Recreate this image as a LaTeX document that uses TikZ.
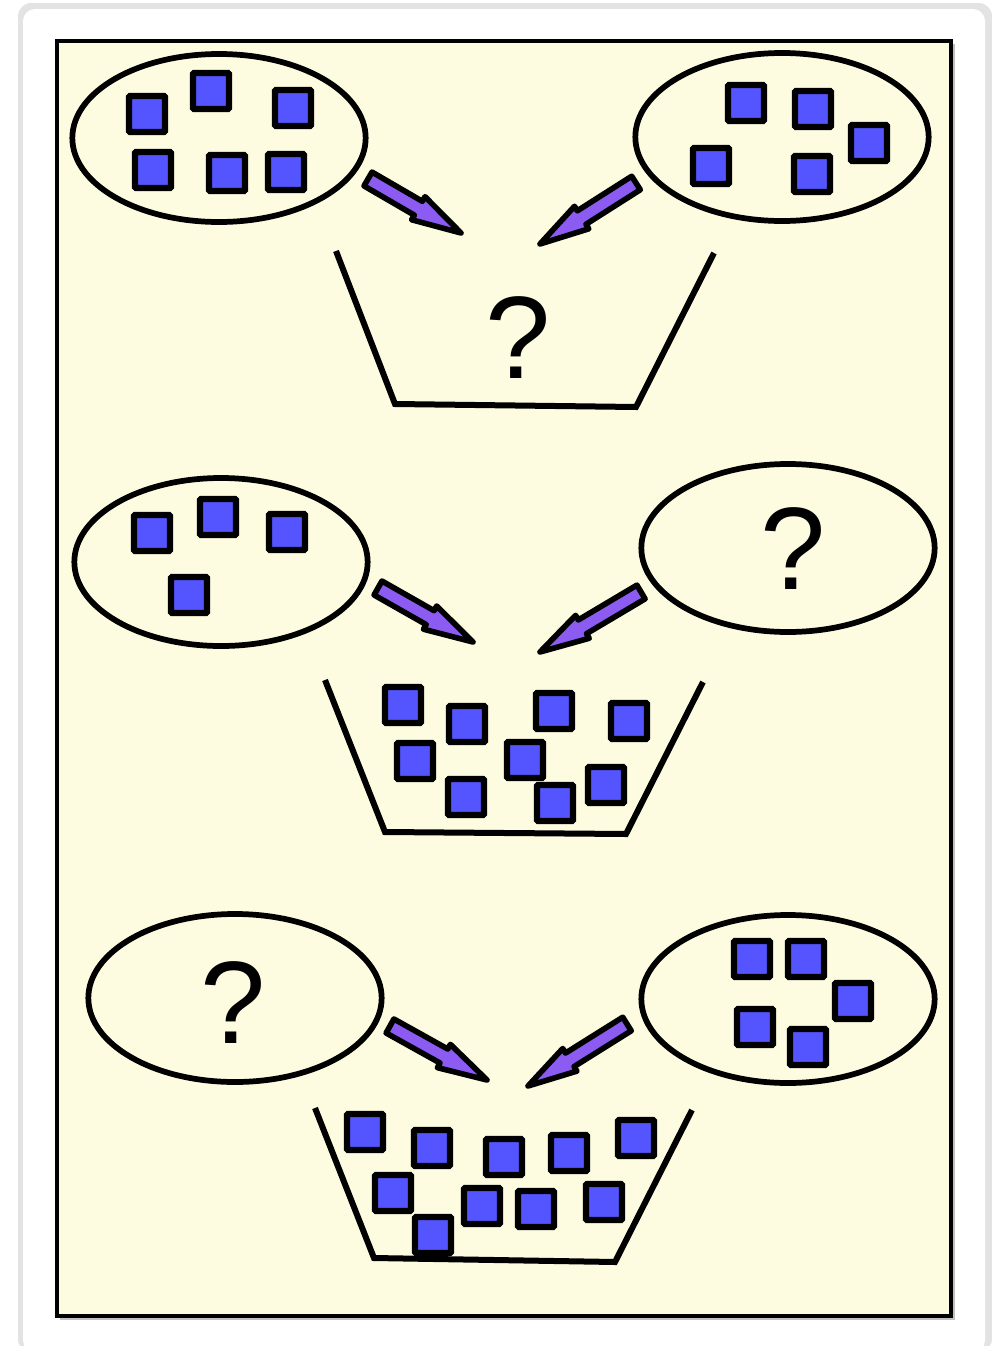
\documentclass[tikz,border=0pt]{standalone}
\usepackage{fontspec}
\setmainfont{Liberation Sans}
\usetikzlibrary{calc,shapes.geometric}
\definecolor{panely}{RGB}{254,252,224}
\definecolor{sqblue}{RGB}{85,85,255}
\definecolor{arrpurple}{RGB}{140,92,242}
\tikzset{
  sq/.style={draw=black, fill=sqblue, line width=4.8pt, minimum size=27pt, inner sep=0pt, rounded corners=0.8pt},
  ell/.style={ellipse, draw=black, line width=4.3pt, minimum width=220pt, minimum height=126pt, inner sep=0pt},
  basin/.style={draw=black, line width=4.5pt, line join=miter},
  qmark/.style={font=\fontsize{88pt}{90pt}\selectfont, inner sep=0pt},
  blockarr/.style={draw=black, fill=arrpurple, line width=4.2pt, line join=round},
}
\newcommand\blockarrow[2]{%
  \coordinate (hb) at ($(#2)!37pt!(#1)$);
  \draw[blockarr] ($(#1)!6pt!90:(#2)$) -- ($(hb)!6pt!90:(#2)$) -- ($(hb)!10pt!90:(#2)$) -- (#2)
     -- ($(hb)!10pt!-90:(#2)$) -- ($(hb)!6pt!-90:(#2)$) -- ($(#1)!6pt!-90:(#2)$) -- cycle;
}
\begin{document}
\begin{tikzpicture}[x=0.75pt,y=-0.75pt]
\useasboundingbox (0,0) rectangle (992,1346);
\fill[white] (0,0) rectangle (992,1346);
% card
\fill[gray!22, rounded corners=10pt] (18,3) rectangle (992,1352);
\fill[white, rounded corners=9pt] (23,9) rectangle (985,1352);
% panel
\fill[gray!50] (60,44) rectangle (955,1320);
\fill[panely] (57,41) rectangle (951,1316);
\draw[black, line width=3pt] (57,41) rectangle (951,1316);

% ===== top section =====
\node[ell] (e1) at (219,138) {};
\node[ell] (e2) at (782,137) {};
\foreach \x/\y [count=\i] in {147/114, 211/91, 293/108, 153/170, 227/173, 286/172}
  \node[sq] (a\i) at (\x,\y) {};
\foreach \x/\y [count=\i] in {746/103, 813/109, 869/143, 711/166, 812/174}
  \node[sq] (b\i) at (\x,\y) {};
\coordinate (t1) at (368,179); \coordinate (p1) at (461,233);
\coordinate (t2) at (636,183); \coordinate (p2) at (540,244);
\blockarrow{t1}{p1}
\blockarrow{t2}{p2}
\coordinate (k1a) at (336,251); \coordinate (k1b) at (395,404);
\coordinate (k1c) at (636,407); \coordinate (k1d) at (714,253);
\draw[basin] (k1a) -- (k1b) -- (k1c) -- (k1d);
\node[qmark] (q1) at (518,338) {?};

% ===== middle section =====
\node[ell] (e3) at (221,562) {};
\node[ell] (e4) at (788,548) {};
\foreach \x/\y [count=\i] in {152/533, 218/517, 287/532, 189/595}
  \node[sq] (c\i) at (\x,\y) {};
\node[qmark] (q2) at (793,549) {?};
\coordinate (t3) at (378,588); \coordinate (p3) at (473,642);
\coordinate (t4) at (641,592); \coordinate (p4) at (540,652);
\blockarrow{t3}{p3}
\blockarrow{t4}{p4}
\coordinate (k2a) at (325,680); \coordinate (k2b) at (385,832);
\coordinate (k2c) at (626,834); \coordinate (k2d) at (703,682);
\draw[basin] (k2a) -- (k2b) -- (k2c) -- (k2d);
\foreach \x/\y [count=\i] in {403/705, 467/724, 554/711, 629/721, 415/761, 525/760, 466/797, 555/803, 606/785}
  \node[sq] (d\i) at (\x,\y) {};

% ===== bottom section =====
\node[ell] (e5) at (235,998) {};
\node[ell] (e6) at (788,999) {};
\node[qmark] (q3) at (233,1003) {?};
\foreach \x/\y [count=\i] in {752/959, 806/959, 853/1001, 755/1027, 808/1047}
  \node[sq] (f\i) at (\x,\y) {};
\coordinate (t5) at (390,1026); \coordinate (p5) at (487,1080);
\coordinate (t6) at (627,1024); \coordinate (p6) at (528,1086);
\blockarrow{t5}{p5}
\blockarrow{t6}{p6}
\coordinate (k3a) at (315,1108); \coordinate (k3b) at (374,1258);
\coordinate (k3c) at (615,1262); \coordinate (k3d) at (692,1110);
\draw[basin] (k3a) -- (k3b) -- (k3c) -- (k3d);
\foreach \x/\y [count=\i] in {365/1132, 432/1148, 504/1157, 569/1153, 636/1138, 393/1193, 482/1206, 536/1209, 604/1202, 433/1235}
  \node[sq] (g\i) at (\x,\y) {};
\end{tikzpicture}
\end{document}
